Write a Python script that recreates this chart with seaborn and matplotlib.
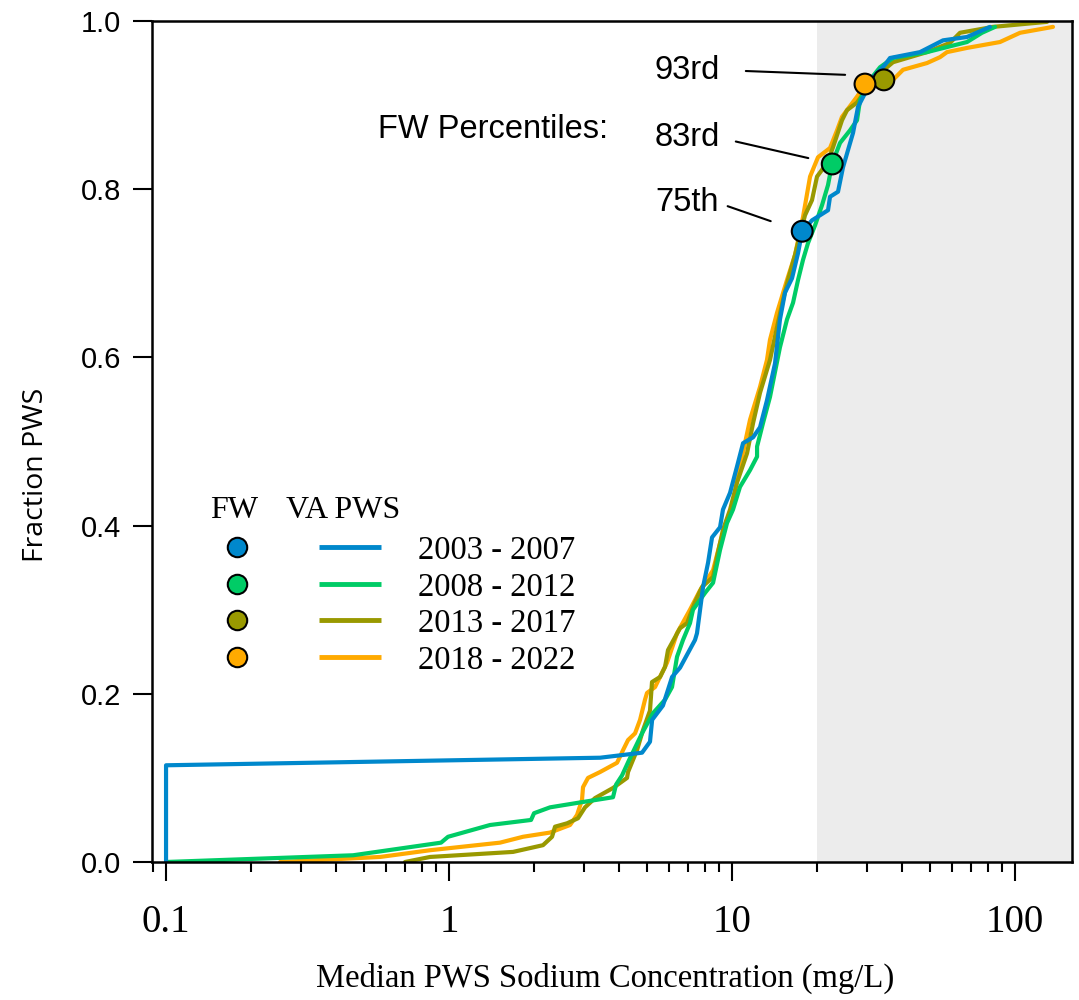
import numpy as np
import pandas as pd
import matplotlib.pyplot as plt
import seaborn as sns
from matplotlib.ticker import LogLocator, NullFormatter

sns.set_style("white")
plt.rcParams["font.family"] = ["Liberation Sans", "DejaVu Sans"]
plt.rcParams.update({"text.color": "black", "axes.labelcolor": "black",
                     "xtick.color": "black", "ytick.color": "black"})

# periods / colours
periods = ["2003 - 2007", "2008 - 2012", "2013 - 2017", "2018 - 2022"]
colors = ["#0088cc", "#00cc66", "#999900", "#ffaa00"]

na_0307 = [0.1, 0.1, 3.42, 4.81, 5.13, 5.22, 5.70, 6.14, 6.55, 7.40, 7.52, 7.90, 8.23,
           8.50, 9.07, 9.29, 9.84, 10.41, 10.94, 11.87, 12.56, 13.29, 14.19, 14.77,
           15.39, 16.29, 17.11, 17.68, 19.17, 21.84, 22.20, 23.69, 24.67, 26.77, 27.88,
           29.51, 31.50, 34.73, 36.16, 46.16, 55.67, 67.68, 81.57]
frac_0307 = [0.0, 0.115, 0.124, 0.130, 0.143, 0.169, 0.186, 0.220, 0.231, 0.264, 0.272,
             0.327, 0.356, 0.386, 0.398, 0.419, 0.439, 0.470, 0.498, 0.505, 0.517, 0.549,
             0.593, 0.645, 0.677, 0.694, 0.724, 0.749, 0.763, 0.775, 0.791, 0.797, 0.826,
             0.867, 0.898, 0.914, 0.933, 0.948, 0.956, 0.963, 0.977, 0.981, 0.993]

na_0812 = [0.1, 0.458, 0.937, 0.992, 1.396, 1.949, 1.997, 2.275, 2.927, 3.797, 3.892,
           4.087, 4.325, 4.808, 5.258, 5.799, 6.137, 6.392, 6.711, 7.104, 7.28, 8.03,
           8.57, 9.07, 9.60, 10.08, 10.67, 11.58, 12.26, 12.26, 12.87, 13.62, 14.77,
           15.64, 16.43, 17.11, 17.82, 18.56, 19.65, 20.80, 21.84, 22.56, 24.08, 26.12,
           27.65, 28.34, 30.73, 33.34, 37.06, 48.87, 57.51, 67.68, 76.44, 85.0]
frac_0812 = [0.0, 0.008, 0.023, 0.030, 0.044, 0.050, 0.058, 0.065, 0.071, 0.077, 0.092,
             0.103, 0.121, 0.153, 0.177, 0.193, 0.208, 0.244, 0.264, 0.284, 0.300, 0.320,
             0.332, 0.371, 0.403, 0.419, 0.446, 0.466, 0.482, 0.494, 0.522, 0.553, 0.612,
             0.645, 0.665, 0.692, 0.716, 0.736, 0.757, 0.781, 0.805, 0.830, 0.855, 0.870,
             0.882, 0.906, 0.930, 0.945, 0.956, 0.963, 0.969, 0.975, 0.986, 0.993]

na_1317 = [0.699, 0.857, 1.683, 2.148, 2.312, 2.369, 2.612, 2.856, 3.024, 3.281, 3.797,
           4.256, 4.291, 4.616, 4.848, 5.13, 5.215, 5.568, 5.799, 5.94, 6.55, 6.934,
           7.40, 7.834, 8.57, 8.85, 9.29, 9.84, 10.41, 11.30, 11.87, 12.56, 13.62, 14.42,
           15.14, 15.77, 16.70, 17.39, 18.11, 19.17, 19.97, 21.66, 22.75, 24.47, 25.49,
           27.65, 29.75, 32.81, 37.06, 48.87, 58.93, 63.92, 83.63, 129.8]
frac_1317 = [0.0, 0.006, 0.012, 0.020, 0.030, 0.042, 0.046, 0.052, 0.065, 0.076, 0.088,
             0.100, 0.107, 0.133, 0.157, 0.180, 0.214, 0.220, 0.232, 0.252, 0.278, 0.284,
             0.309, 0.327, 0.339, 0.363, 0.395, 0.419, 0.451, 0.486, 0.522, 0.558, 0.597,
             0.636, 0.668, 0.692, 0.722, 0.746, 0.769, 0.787, 0.815, 0.831, 0.850, 0.882,
             0.894, 0.903, 0.918, 0.936, 0.951, 0.963, 0.974, 0.986, 0.993, 0.999]

na_1822 = [0.253, 0.571, 0.857, 1.514, 1.826, 2.275, 2.677, 2.834, 2.951, 2.975, 3.098,
           3.418, 3.924, 4.12, 4.291, 4.543, 4.731, 4.926, 5.007, 5.345, 5.893, 6.392,
           7.104, 7.708, 8.57, 9.07, 9.60, 10.08, 10.41, 11.58, 12.56, 13.29, 13.62,
           14.42, 15.64, 16.70, 17.82, 18.87, 20.13, 22.20, 23.50, 24.47, 27.65, 29.51,
           37.06, 40.20, 48.87, 54.33, 57.51, 67.68, 88.5, 104.2, 136.2]
frac_1822 = [0.0, 0.006, 0.014, 0.023, 0.030, 0.035, 0.044, 0.056, 0.074, 0.089, 0.100,
             0.107, 0.118, 0.133, 0.145, 0.153, 0.169, 0.193, 0.201, 0.208, 0.237, 0.272,
             0.300, 0.323, 0.347, 0.379, 0.407, 0.422, 0.454, 0.526, 0.565, 0.597, 0.621,
             0.653, 0.692, 0.722, 0.767, 0.815, 0.838, 0.849, 0.870, 0.886, 0.910, 0.924,
             0.930, 0.942, 0.950, 0.957, 0.963, 0.968, 0.975, 0.986, 0.993]

# FW percentile points (one per period)
fw_conc = [17.7, 22.6, 34.4, 29.5]
fw_frac = [0.75, 0.83, 0.93, 0.925]

cdf = pd.concat([
    pd.DataFrame({"conc": na_0307, "frac": frac_0307, "period": periods[0]}),
    pd.DataFrame({"conc": na_0812, "frac": frac_0812, "period": periods[1]}),
    pd.DataFrame({"conc": na_1317, "frac": frac_1317, "period": periods[2]}),
    pd.DataFrame({"conc": na_1822, "frac": frac_1822, "period": periods[3]}),
], ignore_index=True)
fw = pd.DataFrame({"conc": fw_conc, "frac": fw_frac, "period": periods})

fig = plt.figure(figsize=(10.79, 10), dpi=100)
ax = fig.add_axes([152 / 1079, 138 / 1000, 920 / 1079, 841 / 1000])
ax.set_xscale("log")
ax.set_xlim(0.0892, 159)
ax.set_ylim(0, 1)

# shade above 20 mg/L
ax.axvspan(20, 1000, color="#ececec", lw=0, zorder=0)

# newest period underneath, oldest on top
for period, col in reversed(list(zip(periods, colors))):
    sns.lineplot(data=cdf[cdf["period"] == period], x="conc", y="frac", color=col,
                 lw=3, estimator=None, sort=False, ax=ax, legend=False, zorder=2)

sns.scatterplot(data=fw, x="conc", y="frac", hue="period", palette=colors, s=225,
                edgecolor="black", linewidth=1.5, ax=ax, legend=False, zorder=5)

# percentile call-outs
ann = [("93rd", 0.9417, (25.1, 0.936), 16), ("83rd", 0.8609, (18.6, 0.837), 9),
       ("75th", 0.7836, (13.7, 0.762), 4.5)]
for lab, ty, xy, gap in ann:
    ax.annotate(lab, xy=xy, xycoords="data", xytext=(0.5467, ty), textcoords="axes fraction",
                ha="left", va="center", fontsize=23.5,
                arrowprops=dict(arrowstyle="-", color="black", lw=1.5, shrinkA=gap,
                                shrinkB=0, relpos=(1, 0.5)))
ax.text(0.2457, 0.8704, "FW Percentiles:", transform=ax.transAxes, ha="left",
        va="center", fontsize=23.5)

# hand-made legend: FW marker | VA PWS line | period
serif = ["Liberation Serif", "DejaVu Serif"]
ax.text(0.089, 0.4185, "FW", transform=ax.transAxes, ha="center", va="center",
        fontsize=23, family=serif)
ax.text(0.2076, 0.4185, "VA PWS", transform=ax.transAxes, ha="center", va="center",
        fontsize=23, family=serif)
for ly, col, period in zip([0.3746, 0.3306, 0.2878, 0.2438], colors, periods):
    ax.plot([0.0924], [ly], marker="o", ms=14, mfc=col, mec="black", mew=1.5,
            transform=ax.transAxes, zorder=6)
    ax.plot([0.1815, 0.2489], [ly, ly], color=col, lw=3.5, transform=ax.transAxes,
            solid_capstyle="butt")
    ax.text(0.289, ly, period, transform=ax.transAxes, ha="left", va="center_baseline",
            fontsize=23.5, family=serif)

# axes cosmetics
ax.set_xticks([0.1, 1, 10, 100], labels=["0.1", "1", "10", "100"])
ax.xaxis.set_minor_locator(LogLocator(base=10, subs=np.arange(2, 10)))
ax.xaxis.set_minor_formatter(NullFormatter())
ax.set_yticks(np.arange(0, 1.01, 0.2), labels=[f"{v:.1f}" for v in np.arange(0, 1.01, 0.2)])
ax.tick_params(axis="x", which="major", direction="out", length=14, width=1.5,
               pad=16, labelsize=28, bottom=True, color="black", labelcolor="black")
ax.tick_params(axis="x", which="minor", direction="out", length=7, width=1.5,
               bottom=True, color="black")
ax.tick_params(axis="y", direction="out", length=14, width=1.5, pad=8,
               labelsize=21, left=True, color="black", labelcolor="black")
for lbl in ax.get_xticklabels():
    lbl.set_family(serif)

for sp in ax.spines.values():
    sp.set_color("black")
    sp.set_linewidth(1.8)

ax.set_xlabel("Median PWS Sodium Concentration (mg/L)", fontsize=23.5, family=serif,
              color="black")
ax.xaxis.set_label_coords(0.4924, -0.12)
ax.set_ylabel("Fraction PWS", fontsize=20.5, family=["Open Sans", "DejaVu Sans"],
              color="black")
ax.yaxis.set_label_coords(-0.111, 0.46)

fig.savefig("out.png", dpi=100)
